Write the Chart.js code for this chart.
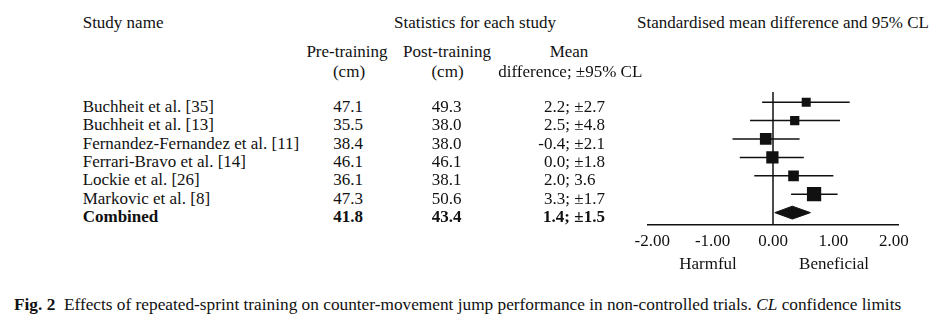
<!DOCTYPE html>
<html>
<head>
<meta charset="utf-8">
<script src="https://cdn.jsdelivr.net/npm/chart.js@4.4.1/dist/chart.umd.min.js"></script>
<style>
  body {
    margin: 0;
    width: 942px;
    height: 331px;
    background: #fff;
    position: relative;
    overflow: hidden;
    font-family: 'Liberation Serif', 'Times New Roman', serif;
    color: #111;
  }
  .t { position: absolute; font-size: 17px; line-height: 20px; white-space: nowrap; }
  .c { transform: translateX(-50%); }
  .r { transform: translateX(-100%); }
  .b { font-weight: bold; }
  #plot { position: absolute; left: 600px; top: 80px; }
  #caption {
    position: absolute;
    left: 14px;
    top: 295px;
    font-size: 17.3px;
    line-height: 20px;
    white-space: nowrap;
  }
</style>
</head>
<body>
<canvas id="plot" width="320" height="185"></canvas>
<div id="caption"><b>Fig. 2</b>&nbsp; Effects of repeated-sprint training on counter-movement jump performance in non-controlled trials. <i>CL</i> confidence limits</div>

<script>
// table columns
const studies = [
  'Buchheit et al. [35]',
  'Buchheit et al. [13]',
  'Fernandez-Fernandez et al. [11]',
  'Ferrari-Bravo et al. [14]',
  'Lockie et al. [26]',
  'Markovic et al. [8]',
  'Combined'
];
const preTraining = [47.1, 35.5, 38.4, 46.1, 36.1, 47.3, 41.8];
const postTraining = [49.3, 38.0, 38.0, 46.1, 38.1, 50.6, 43.4];
const meanDiff = [2.2, 2.5, -0.4, 0.0, 2.0, 3.3, 1.4];
const meanDiffCL = ['±2.7', '±4.8', '±2.1', '±1.8', '3.6', '±1.7', '±1.5'];

// standardised mean difference and 95% CL
const smd = [0.55, 0.36, -0.12, -0.01, 0.34, 0.68];
const smdLower = [-0.18, -0.38, -0.67, -0.55, -0.31, 0.30];
const smdUpper = [1.27, 1.11, 0.44, 0.51, 1.00, 1.07];
const weights = [10.5, 11.1, 17.7, 19.5, 14.7, 26.4];
const combinedSmd = 0.32;
const combinedLower = 0.03;
const combinedUpper = 0.62;

const xTicks = [-2, -1, 0, 1, 2];
const effectLabels = ['Harmful', 'Beneficial'];

function addText(text, x, baseline, cls) {
  const el = document.createElement('div');
  el.className = 't ' + (cls || '');
  el.textContent = text;
  el.style.left = x + 'px';
  el.style.top = (baseline - 15.7) + 'px';
  document.body.appendChild(el);
  return el;
}

// headers
addText('Study name', 82.7, 28.3);
addText('Statistics for each study', 475, 28.3, 'c');
addText('Standardised mean difference and 95% CL', 783, 28.3, 'c');
addText('Pre-training', 347, 57.7, 'c');
addText('(cm)', 349, 77.7, 'c');
addText('Post-training', 447, 57.7, 'c');
addText('(cm)', 447.5, 77.7, 'c');
addText('Mean', 569, 57.7, 'c');
addText('difference; ±95% CL', 498.3, 77.7);

// rows, mean difference column lined up on the semicolon
const rowBase = 112.7;
const rowStep = 18.3;
studies.forEach(function(name, i) {
  const y = rowBase + rowStep * i;
  const bold = i === studies.length - 1 ? 'b' : '';
  addText(name, 82.7, y, bold);
  addText(preTraining[i].toFixed(1), 363, y, 'r ' + bold);
  addText(postTraining[i].toFixed(1), 446.7, y, 'c ' + bold);
  addText(meanDiff[i].toFixed(1) + ';', 570, y, 'r ' + bold);
  addText(meanDiffCL[i], 574.3, y, bold);
});

addText(effectLabels[0], 708, 269.3, 'c');
addText(effectLabels[1], 834, 269.3, 'c');

// forest plot
const INK = '#111';
const Y_MIN = -0.55;
const Y_MAX = 6.65;
const combinedRow = studies.length - 1;

const datasets = [];

// line of no effect
datasets.push({
  data: [{ x: 0, y: Y_MIN }, { x: 0, y: Y_MAX }],
  showLine: true,
  borderColor: INK,
  borderWidth: 1.5,
  pointRadius: 0
});

smd.forEach(function(v, i) {
  datasets.push({
    data: [{ x: smdLower[i], y: i }, { x: smdUpper[i], y: i }],
    showLine: true,
    borderColor: INK,
    borderWidth: 1.5,
    pointRadius: 0
  });
});

datasets.push({
  data: smd.map(function(v, i) { return { x: v, y: i }; }),
  pointStyle: 'rect',
  pointRadius: weights.map(function(w) { return 2.78 * Math.sqrt(w) / Math.SQRT2; }),
  pointBackgroundColor: INK,
  pointBorderWidth: 0
});

datasets.push({
  data: [
    { x: combinedLower, y: combinedRow },
    { x: combinedSmd, y: combinedRow - 0.35 },
    { x: combinedUpper, y: combinedRow },
    { x: combinedSmd, y: combinedRow + 0.35 },
    { x: combinedLower, y: combinedRow }
  ],
  showLine: true,
  fill: 'shape',
  backgroundColor: INK,
  borderColor: INK,
  borderWidth: 1,
  pointRadius: 0,
  tension: 0
});

new Chart(document.getElementById('plot'), {
  type: 'scatter',
  data: { datasets: datasets },
  options: {
    responsive: false,
    animation: false,
    devicePixelRatio: 1,
    layout: { padding: { left: 48, right: 22, top: 12, bottom: 6 } },
    plugins: { legend: { display: false }, tooltip: { enabled: false } },
    scales: {
      x: {
        type: 'linear',
        min: -2.07,
        max: 2.07,
        afterBuildTicks: function(scale) {
          scale.ticks = xTicks.map(function(v) { return { value: v }; });
        },
        grid: { display: false, drawTicks: false, tickLength: 0 },
        border: { display: true, color: INK, width: 1.5 },
        ticks: {
          color: INK,
          padding: 7,
          maxRotation: 0,
          autoSkip: false,
          font: { family: "'Liberation Serif', serif", size: 17 },
          callback: function(v) { return Number(v).toFixed(2); }
        }
      },
      y: {
        type: 'linear',
        reverse: true,
        min: Y_MIN,
        max: Y_MAX,
        display: false
      }
    }
  }
});
</script>
</body>
</html>
